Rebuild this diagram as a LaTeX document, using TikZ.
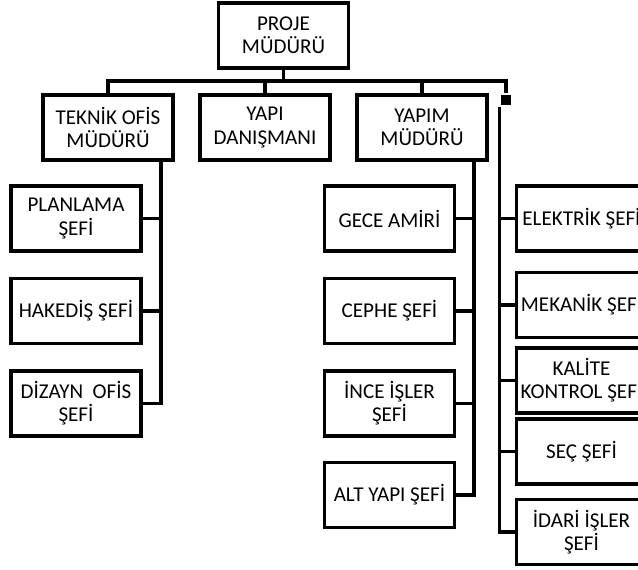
\documentclass[tikz,border=0pt]{standalone}
\usepackage{fontspec}
\setmainfont{Carlito}
\usepackage{tikz}
\usetikzlibrary{calc}

\begin{document}
\begin{tikzpicture}[x=0.03cm, y=-0.03cm, line width=2.8pt,
  kutu/.style={draw, line width=2.8pt, minimum width=3.9cm, minimum height=1.95cm,
    inner sep=1pt, align=center, font=\fontsize{18pt}{19.8pt}\selectfont}]
\useasboundingbox (0,0) rectangle (638,570);
\clip (0,0) rectangle (638,570);

% Top
\node[kutu] (pm) at (283.5,35.5) {PROJE\\MÜDÜRÜ};

% Second row
\node[kutu] (teknik) at (108,127.5) {TEKNİK OFİS\\MÜDÜRÜ};
\node[kutu] (yapi) at (265,127.5) {YAPI\\DANIŞMANI};
\node[kutu] (yapim) at (422,127.5) {YAPIM\\MÜDÜRÜ};
\node[fill, minimum size=0.3cm, inner sep=0pt] (kare) at (506,100) {};

% Left column
\node[kutu] (planlama) at (76,218.5) {PLANLAMA\\ŞEFİ};
\node[kutu] (hakedis) at (76,311) {HAKEDİŞ ŞEFİ};
\node[kutu] (dizayn) at (76,403.5) {DİZAYN\ \ OFİS\\ŞEFİ};

% Middle column
\node[kutu] (gece) at (389.5,218.5) {GECE AMİRİ};
\node[kutu] (cephe) at (389.5,311) {CEPHE ŞEFİ};
\node[kutu] (ince) at (389.5,403.5) {İNCE İŞLER\\ŞEFİ};
\node[kutu] (altyapi) at (389.5,495) {ALT YAPI ŞEFİ};

% Right column
\node[kutu] (elektrik) at (581.5,218.5) {ELEKTRİK ŞEFİ};
\node[kutu] (mekanik) at (581.5,305) {MEKANİK ŞEFİ};
\node[kutu] (kalite) at (581.5,380.5) {KALİTE\\KONTROL ŞEFİ};
\node[kutu] (sec) at (581.5,451.5) {SEÇ ŞEFİ};
\node[kutu] (idari) at (581.5,532) {İDARİ İŞLER\\ŞEFİ};

% Bus lines
\coordinate (busR) at (506,81);
\coordinate (tofis) at (161,160);
\coordinate (ymud) at (474,160);
\draw (pm.south) -- (pm.south |- busR);
\draw (teknik.north) |- (busR) -- (kare.north);
\draw (yapi.north) -- (yapi.north |- busR);
\draw (yapim.north) -- (yapim.north |- busR);

% Branches
\draw (tofis) |- (dizayn.east);
\draw (planlama.east) -- (planlama.east -| tofis);
\draw (hakedis.east) -- (hakedis.east -| tofis);
\draw (ymud) |- (altyapi.east);
\draw (gece.east) -- (gece.east -| ymud);
\draw (cephe.east) -- (cephe.east -| ymud);
\draw (ince.east) -- (ince.east -| ymud);
\draw (kare.south west) |- (idari.west);
\foreach \k in {elektrik,mekanik,kalite,sec}
  \draw (\k.west) -- (\k.west -| kare.south west);
\end{tikzpicture}
\end{document}
